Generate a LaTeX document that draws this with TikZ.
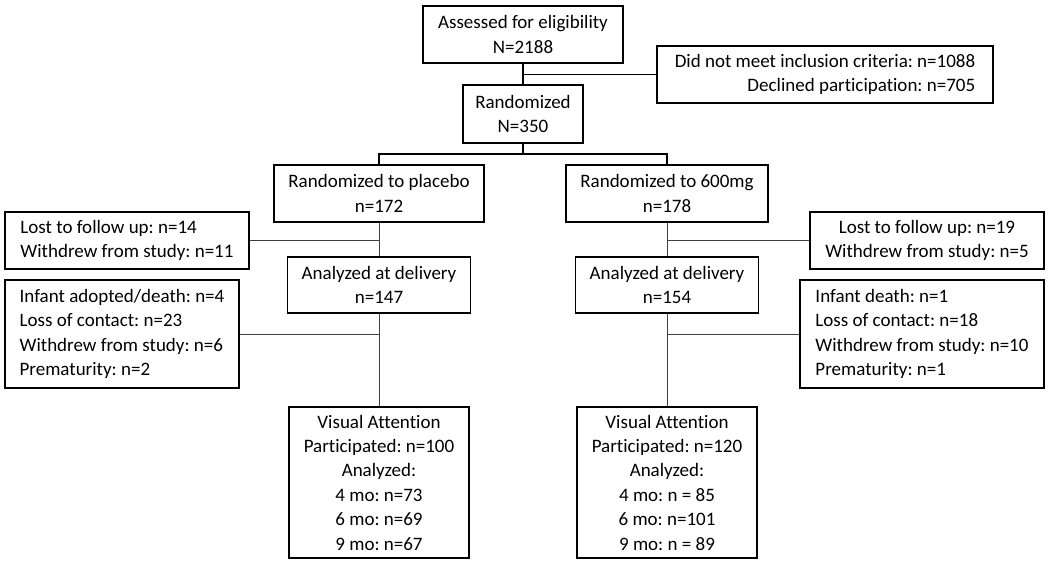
\documentclass[tikz,border=0pt]{standalone}
\usepackage{fontspec}
\setmainfont{Carlito}[Ligatures=NoCommon]
\usepackage{tikz}
\frenchspacing

\begin{document}
\begin{tikzpicture}[x=1pt,y=-1pt]
  \useasboundingbox (0,0) rectangle (1050,567);

        \begin{scope}[every node/.style={draw, line width=1.3pt, inner xsep=8pt, inner ysep=0pt, align=center, font=\fontsize{19}{24.4}\selectfont}]
          \node[minimum width=200pt, minimum height=57pt] (assess) at (523,34.5) {Assessed for eligibility\\N=2188};
          \node[minimum width=336pt, minimum height=57pt, align=right] (excl) at (825,74.5) {Did not meet inclusion criteria: n=1088\\Declined participation: n=705};
          \node[minimum width=120pt, minimum height=58pt] (rand) at (523,114) {Randomized\\N=350};
          \node[minimum width=210pt, minimum height=57pt] (plac) at (379,193.5) {Randomized to placebo\\n=172};
          \node[minimum width=202pt, minimum height=57pt] (dose) at (667,193.5) {Randomized to 600mg\\n=178};
          \node[minimum width=244pt, minimum height=57pt, align=left] (lostP) at (127,240.5) {Lost to follow up: n=14\\Withdrew from study: n=11};
          \node[minimum width=234pt, minimum height=57pt] (lostD) at (927,240.5) {Lost to follow up: n=19\\Withdrew from study: n=5};
          \node[minimum width=183pt, minimum height=56pt] (delP) at (379,285) {Analyzed at delivery\\n=147};
          \node[minimum width=183pt, minimum height=56pt] (delD) at (667,285) {Analyzed at delivery\\n=154};
          \node[minimum width=234pt, minimum height=108pt, align=left] (infP) at (122,334) {Infant adopted/death: n=4\\Loss of contact: n=23\\Withdrew from study: n=6\\Prematurity: n=2};
          \node[minimum width=244pt, minimum height=108pt, align=left] (infD) at (922,334) {Infant death: n=1\\Loss of contact: n=18\\Withdrew from study: n=10\\Prematurity: n=1};
          \node[minimum width=180pt, minimum height=151pt] (visP) at (379,482.5) {Visual Attention\\Participated: n=100\\Analyzed:\\4 mo: n=73\\6 mo: n=69\\9 mo: n=67};
          \node[minimum width=180pt, minimum height=151pt] (visD) at (667,482.5) {Visual Attention\\Participated: n=120\\Analyzed:\\4 mo: n = 85\\6 mo: n=101\\9 mo: n = 89};
        \end{scope}

        \coordinate (j1) at (523,74.5);
        \coordinate (j2) at (523,154);
        \coordinate (j3) at (379,240.5);
        \coordinate (j4) at (667,240.5);
        \coordinate (j5) at (379,334);
        \coordinate (j6) at (667,334);

        \begin{scope}[line width=1.6pt]
          \path (assess) edge (rand);
          \path (j1) edge (excl);
          \path (rand) edge (j2);
          \draw (plac) |- (j2) -| (dose);
        \end{scope}

        \begin{scope}[line width=1pt, black!75]
          \path (plac) edge (delP);
          \path (dose) edge (delD);
          \path (j3) edge (lostP);
          \path (j4) edge (lostD);
          \path (delP) edge (visP);
          \path (delD) edge (visD);
          \path (j5) edge (infP);
          \path (j6) edge (infD);
        \end{scope}

      \end{tikzpicture}
\end{document}
